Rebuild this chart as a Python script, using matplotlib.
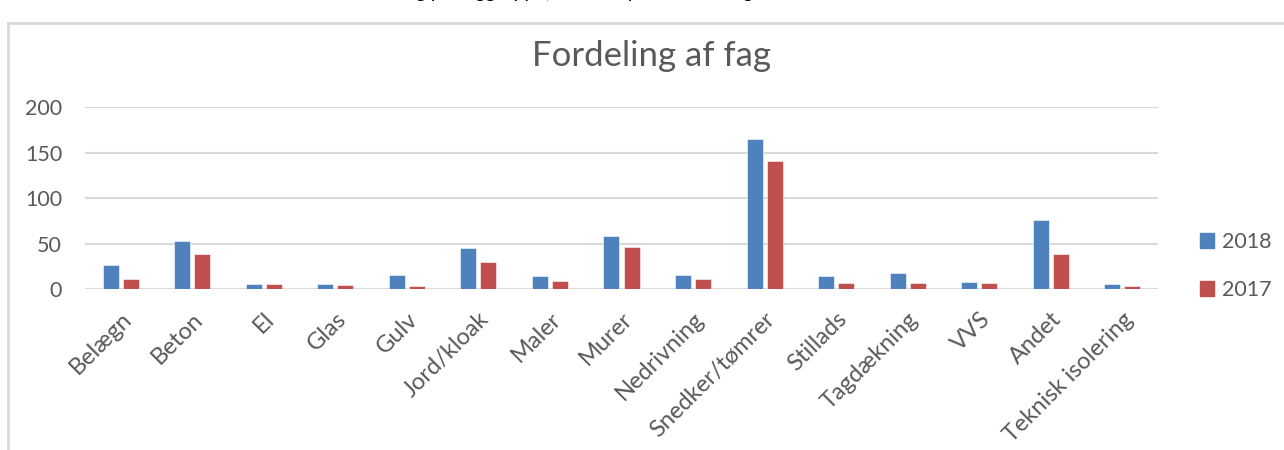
import matplotlib.pyplot as plt
import numpy as np
from matplotlib.lines import Line2D
from matplotlib.patches import Patch

# data
CATEGORIES = ["Belægn", "Beton", "El", "Glas", "Gulv", "Jord/kloak", "Maler",
              "Murer", "Nedrivning", "Snedker/tømrer", "Stillads", "Tagdækning",
              "VVS", "Andet", "Teknisk isolering"]
VALUES_2018 = [26, 53, 5, 6, 15, 45, 14, 58, 15, 165, 14, 18, 8, 76, 5]
VALUES_2017 = [11, 38, 5, 4, 3, 30, 9, 46, 11, 141, 7, 7, 7, 39, 3]
YEARS = ["2018", "2017"]
YTICKS = [0, 50, 100, 150, 200]

BLUE = "#4F81BD"
RED = "#C0504D"
TEXT = "#595959"
GRID = "#D9D9D9"

W, H = 1284, 450
plt.rcParams["font.family"] = ["Lato", "DejaVu Sans"]

fig = plt.figure(figsize=(W / 100, H / 100), dpi=100)

# cut-off heading above the chart box (only descenders show)
fig.text(345 / W, 1 + 2 / H, "Fordeling pr. faggruppe, skader optalt i 2018 og 2017",
         fontsize=14, color="black", va="baseline", ha="left")

# chart box edges
fig.add_artist(Line2D([8 / W, 1.0], [1 - 23 / H, 1 - 23 / H], color=GRID, lw=2,
                      transform=fig.transFigure))
fig.add_artist(Line2D([8 / W, 8 / W], [0, 1 - 23 / H], color=GRID, lw=2,
                      transform=fig.transFigure))

ax = fig.add_axes([85 / W, 1 - 289 / H, (1158 - 85) / W, (289 - 107) / H])

x = np.arange(len(CATEGORIES))
bw = 0.224
off = 0.14
ax.bar(x - off, VALUES_2018, bw, color=BLUE, edgecolor="white", linewidth=0.4, zorder=3)
ax.bar(x + off, VALUES_2017, bw, color=RED, edgecolor="white", linewidth=0.4, zorder=3)

ax.set_xlim(-0.5, len(CATEGORIES) - 0.5)
ax.set_ylim(0, 200)
ax.set_yticks(YTICKS)
ax.yaxis.grid(True, color=GRID, lw=1.5, zorder=0)
for s in ax.spines.values():
    s.set_visible(False)
ax.tick_params(length=0, colors=TEXT, labelsize=15.5)
ax.tick_params(axis="y", pad=16.5)
ax.set_xticks(x)
ax.set_xticklabels(CATEGORIES, rotation=45, ha="right", rotation_mode="anchor",
                   color=TEXT, fontsize=17)
ax.tick_params(axis="x", pad=14)

fig.text(652 / W, 1 - 66 / H, "Fordeling af fag", fontsize=25, color=TEXT,
         ha="center", va="baseline")

handles = [Patch(color=BLUE), Patch(color=RED)]
fig.legend(handles, YEARS, loc="center left", bbox_to_anchor=(1181 / W, 1 - 266 / H),
           frameon=False, fontsize=15.5, handlelength=0.65, handleheight=0.65,
           handletextpad=0.35, labelspacing=1.3, labelcolor=TEXT)

fig.savefig("out.png", dpi=100)
